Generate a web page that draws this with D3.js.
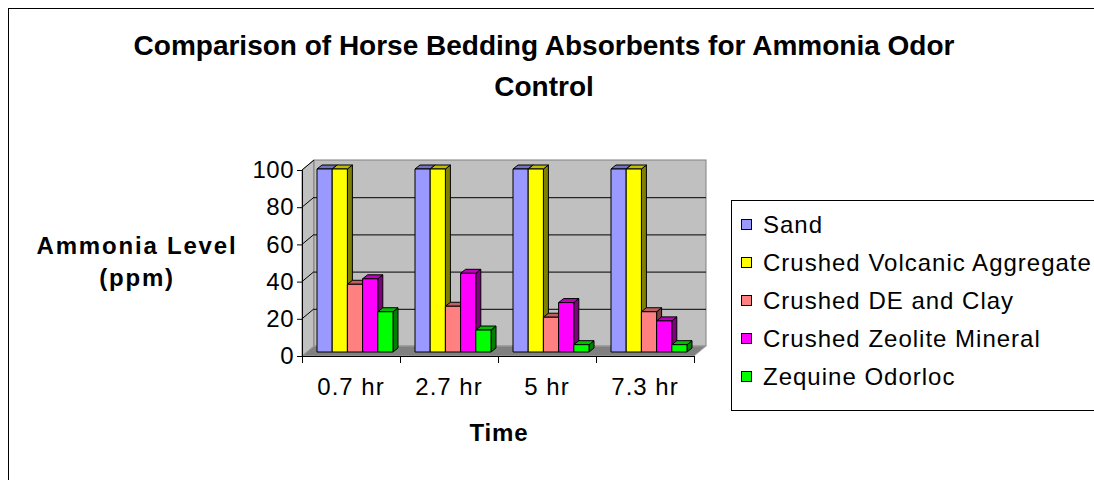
<!DOCTYPE html>
<html><head><meta charset="utf-8">
<script src="https://cdn.jsdelivr.net/npm/d3@7"></script>
<style>body{margin:0;background:#fff;overflow:hidden}svg{display:block}text{font-family:"Liberation Sans",Arial,sans-serif;fill:#000}</style>
</head><body><svg id="c" width="1094" height="480"></svg>
<script>
const categories = ["0.7 hr", "2.7 hr", "5 hr", "7.3 hr"];
const seriesNames = ["Sand", "Crushed Volcanic Aggregate", "Crushed DE and Clay", "Crushed Zeolite Mineral", "Zequine Odorloc"];
const sand = [100, 100, 100, 100];
const volcanic = [100, 100, 100, 100];
const deClay = [37, 25, 19, 22];
const zeolite = [40, 43, 27, 17];
const zequine = [22, 12, 4, 4];
const yTicks = [0, 20, 40, 60, 80, 100];
const colors = ["#9999FF", "#FFFF00", "#FF8080", "#FF00FF", "#00FF00"];
const seriesValues = [sand, volcanic, deClay, zeolite, zequine];

const svg = d3.select("#c");
// outer frame
svg.append("rect").attr("x", 8.5).attr("y", 8.5).attr("width", 1200).attr("height", 600)
  .attr("fill", "#fff").attr("stroke", "#000").attr("stroke-width", 1);

// title
const title = svg.append("text").attr("text-anchor", "middle").attr("font-weight", "bold").attr("font-size", 28);
title.append("tspan").attr("x", 544).attr("y", 55).text("Comparison of Horse Bedding Absorbents for Ammonia Odor");
title.append("tspan").attr("x", 544).attr("y", 96).text("Control");

// scales
const x = d3.scaleBand().domain(categories).range([302, 694]).padding(0);
const y = d3.scaleLinear().domain([0, 100]).range([356, 170]);
const yBar = d3.scaleLinear().domain([0, 100]).range([352, 169]);
const inner = d3.scaleBand().domain(d3.range(seriesNames.length)).range([11, 87]).padding(0);
const DX = 12, DY = -10;            // wall depth
const BX = 4;                       // bar front offset (x)
const BDX = 5, BDY = -4;            // bar depth

const x0 = x.range()[0], x1 = x.range()[1];
const y0 = y(0), yTop = y(100);

// left wall
svg.append("polygon").attr("points", [[x0, yTop], [x0 + DX, yTop + DY], [x0 + DX, y0 + DY], [x0, y0]].join(" "))
  .attr("fill", "#c0c0c0").attr("stroke", "#808080");
// back wall
svg.append("rect").attr("x", x0 + DX).attr("y", yTop + DY).attr("width", x1 - x0).attr("height", y0 - yTop)
  .attr("fill", "#c0c0c0").attr("stroke", "#808080");
// floor
svg.append("polygon").attr("points", [[x0, y0], [x1, y0], [x1 + DX, y0 + DY], [x0 + DX, y0 + DY]].join(" "))
  .attr("fill", "#808080").attr("stroke", "#a0a0a0");

// gridlines
yTicks.filter(v => v > 0 && v < 100).forEach(v => {
  svg.append("line").attr("x1", x0 + DX).attr("x2", x1 + DX).attr("y1", y(v) + DY + 0.5).attr("y2", y(v) + DY + 0.5)
    .attr("stroke", "#000");
});
yTicks.filter(v => v > 0).forEach(v => {
  svg.append("line").attr("x1", x0).attr("y1", y(v)).attr("x2", x0 + DX).attr("y2", y(v) + DY).attr("stroke", "#000");
});

// bars
function shade(c, k) { const r = d3.rgb(c); return d3.rgb(r.r * k, r.g * k, r.b * k).toString(); }
const barG = svg.append("g");
categories.forEach((cat, ci) => {
  seriesValues.forEach((vals, si) => {
    const v = vals[ci];
    const bx = x(cat) + inner(si) + BX;
    const bw = inner.bandwidth();
    const by = yBar(v), bb = yBar(0);
    const g = barG.append("g").attr("stroke", "#000").attr("stroke-width", 1).attr("stroke-linejoin", "round");
    g.append("polygon").attr("points", [[bx + bw, by], [bx + bw + BDX, by + BDY], [bx + bw + BDX, bb + BDY], [bx + bw, bb]].join(" "))
      .attr("fill", shade(colors[si], 0.5));
    g.append("polygon").attr("points", [[bx, by], [bx + BDX, by + BDY], [bx + bw + BDX, by + BDY], [bx + bw, by]].join(" "))
      .attr("fill", shade(colors[si], 0.75));
    g.append("rect").attr("x", bx).attr("y", by).attr("width", bw).attr("height", bb - by).attr("fill", colors[si]);
  });
});

// axes
const yAxis = d3.axisLeft(y).tickValues(yTicks).tickSize(5).tickPadding(3).tickFormat(d3.format("d"));
const gy = svg.append("g").attr("transform", `translate(${x0},0)`).call(yAxis);
gy.select(".domain").attr("stroke", "#000");
gy.selectAll("text").attr("font-size", 24).attr("letter-spacing", 0.5).attr("font-family", "Liberation Sans, Arial, sans-serif").attr("fill", "#000");

const xAxis = d3.axisBottom(x).tickSize(0).tickPadding(22);
const gx = svg.append("g").attr("transform", `translate(0,${y0})`).call(xAxis);
gx.select(".domain").attr("stroke", "#000");
gx.selectAll("text").attr("font-size", 24).attr("letter-spacing", 1).attr("font-family", "Liberation Sans, Arial, sans-serif").attr("fill", "#000");
const bounds = categories.map(c => x(c)).concat([x1]);
gx.selectAll(".bt").data(bounds).enter().append("line").attr("class", "bt")
  .attr("x1", d => d + 0.5).attr("x2", d => d + 0.5).attr("y1", 0).attr("y2", 7).attr("stroke", "#000");

// axis titles
svg.append("text").attr("x", 499).attr("y", 441).attr("text-anchor", "middle").attr("font-weight", "bold")
  .attr("font-size", 24).attr("letter-spacing", 0.8).text("Time");
const yt = svg.append("text").attr("text-anchor", "middle").attr("font-weight", "bold").attr("font-size", 24)
  .attr("letter-spacing", 1.8);
yt.append("tspan").attr("x", 137).attr("y", 254).text("Ammonia Level");
yt.append("tspan").attr("x", 137).attr("y", 286).text("(ppm)");

// legend
svg.append("rect").attr("x", 731.5).attr("y", 200.5).attr("width", 500).attr("height", 210)
  .attr("fill", "#fff").attr("stroke", "#000");
const leg = svg.append("g").selectAll("g").data(seriesNames).enter().append("g")
  .attr("transform", (d, i) => `translate(741,${224 + i * 38})`);
leg.append("rect").attr("x", 0.5).attr("y", -4.5).attr("width", 10).attr("height", 10)
  .attr("fill", (d, i) => colors[i]).attr("stroke", "#000");
leg.append("text").attr("x", 22).attr("y", 8.5).attr("font-size", 24).attr("letter-spacing", 1).text(d => d);
</script></body></html>
